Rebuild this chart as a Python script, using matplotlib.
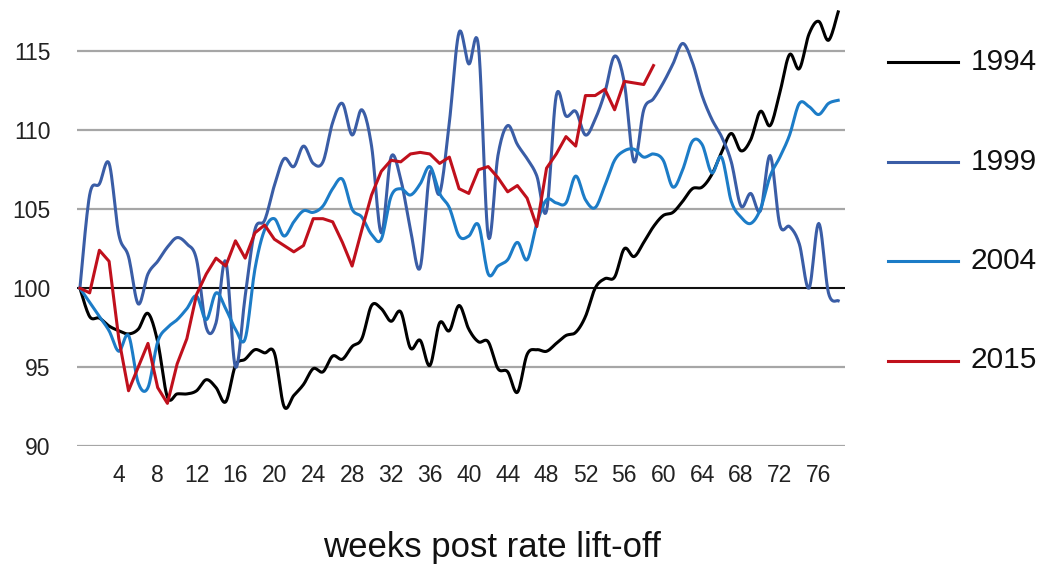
"""Index levels in the weeks after a rate lift-off, four hiking cycles."""
import matplotlib
matplotlib.use("Agg")
import matplotlib.pyplot as plt
from matplotlib.lines import Line2D
import numpy as np

plt.rcParams["font.family"] = ["Liberation Sans", "DejaVu Sans"]

# ── Data (weekly, week 0 = lift-off, indexed to 100) ─────────────────────────
weeks = list(range(79))

y1994 = [100, 98.2, 98.1, 97.6, 97.3, 97.1, 97.4, 98.4, 96.6, 93.1,
         93.3, 93.3, 93.5, 94.2, 93.7, 92.8, 95.1, 95.5, 96.1, 95.9,
         95.9, 92.5, 93.2, 93.9, 94.9, 94.7, 95.7, 95.5, 96.3, 96.8,
         98.9, 98.7, 97.9, 98.5, 96.2, 96.7, 95.1, 97.8, 97.3, 98.9,
         97.4, 96.6, 96.6, 94.9, 94.7, 93.4, 95.8, 96.1, 96.0, 96.5,
         97.0, 97.2, 98.2, 100.0, 100.6, 100.7, 102.5, 102.0, 102.9, 103.9,
         104.6, 104.8, 105.5, 106.3, 106.4, 107.2, 108.6, 109.8, 108.7, 109.4,
         111.2, 110.3, 112.4, 114.8, 113.9, 116.1, 116.9, 115.7, 117.5]

y1999 = [100, 105.9, 106.6, 107.9, 103.4, 102.0, 99.0, 100.9, 101.7, 102.6,
         103.2, 102.8, 101.8, 97.5, 97.8, 101.7, 95.0, 99.5, 103.7, 104.3,
         106.5, 108.2, 107.7, 109.0, 107.9, 108.0, 110.5, 111.7, 109.7, 111.3,
         109.0, 103.5, 108.3, 106.9, 103.7, 101.3, 107.3, 106.0, 110.5, 116.2,
         114.2, 115.3, 103.3, 108.4, 110.3, 109.1, 108.2, 107.1, 104.9, 112.2,
         110.9, 111.2, 109.7, 110.7, 112.4, 114.7, 113.0, 108.0, 111.3, 112.0,
         113.0, 114.2, 115.5, 114.3, 112.2, 110.7, 109.6, 108.0, 105.2, 106.0,
         104.9, 108.4, 104.0, 103.9, 102.8, 100.0, 104.1, 99.7, 99.2]

y2004 = [100, 99.1, 98.2, 97.3, 96.0, 97.0, 94.0, 93.7, 96.6, 97.5,
         98.0, 98.7, 99.5, 98.0, 99.7, 98.7, 97.4, 96.8, 101.2, 103.7,
         104.4, 103.3, 104.2, 104.9, 104.8, 105.2, 106.3, 106.9, 105.0, 104.5,
         103.4, 103.1, 105.8, 106.3, 105.9, 106.6, 107.7, 106.0, 105.1, 103.3,
         103.3, 104.0, 100.9, 101.4, 101.8, 102.9, 101.8, 104.1, 105.6, 105.4,
         105.4, 107.1, 105.6, 105.1, 106.5, 108.1, 108.7, 108.8, 108.3, 108.5,
         108.1, 106.4, 107.5, 109.3, 109.1, 107.3, 108.3, 105.5, 104.5, 104.1,
         105.0, 107.1, 108.3, 109.7, 111.7, 111.5, 111.0, 111.7, 111.9]

y2015 = [100, 99.7, 102.4, 101.7, 96.8, 93.5, 95.0, 96.5, 93.7, 92.7,
         95.2, 96.8, 99.6, 100.9, 101.9, 101.4, 103.0, 101.9, 103.5, 104.0,
         103.1, 102.7, 102.3, 102.7, 104.4, 104.4, 104.2, 102.9, 101.4, 103.7,
         105.9, 107.4, 108.1, 108.0, 108.5, 108.6, 108.5, 107.9, 108.3, 106.3,
         106.0, 107.5, 107.7, 107.0, 106.1, 106.5, 105.7, 103.9, 107.6, 108.5,
         109.6, 109.0, 112.2, 112.2, 112.6, 111.3, 113.1, 113.0, 112.9, 114.1]

SERIES = [
    ("1994", y1994, "#000000", True),
    ("1999", y1999, "#3a5da6", True),
    ("2004", y2004, "#1c7cc7", True),
    ("2015", y2015, "#c0101c", False),
]

x_ticks = list(range(4, 77, 4))
y_ticks = [90, 95, 100, 105, 110, 115]


def smooth(x, y, n=12):
    """Catmull-Rom curve through the points, like a spreadsheet 'smoothed line'."""
    p = np.column_stack([x, y]).astype(float)
    p = np.vstack([p[0], p, p[-1]])
    t = np.linspace(0, 1, n, endpoint=False)[:, None]
    segs = []
    for i in range(1, len(p) - 2):
        p0, p1, p2, p3 = p[i - 1], p[i], p[i + 1], p[i + 2]
        segs.append(0.5 * (2 * p1 + (p2 - p0) * t
                           + (2 * p0 - 5 * p1 + 4 * p2 - p3) * t ** 2
                           + (3 * p1 - p0 - 3 * p2 + p3) * t ** 3))
    segs.append(p[-2:-1])
    s = np.vstack(segs)
    return s[:, 0], s[:, 1]


# ── Figure ───────────────────────────────────────────────────────────────────
W, H = 1047, 568
fig = plt.figure(figsize=(W / 100, H / 100), dpi=100)
ax = fig.add_axes([77 / W, 1 - 446 / H, (845 - 77) / W, (446 - 4) / H])

for label, vals, color, is_smooth in SERIES:
    xs = weeks[:len(vals)]
    if is_smooth:
        sx, sy = smooth(xs, vals)
    else:
        sx, sy = xs, vals
    ax.plot(sx, sy, color=color, lw=2.2, zorder=3, clip_on=False,
            solid_joinstyle="round")

ax.set_xlim(-0.3, 78.7)
ax.set_ylim(90, 118)
ax.set_xticks(x_ticks)
ax.set_yticks(y_ticks)
ax.tick_params(axis="both", length=0, labelsize=16.5, labelcolor="#222222")
ax.tick_params(axis="y", pad=19)
ax.tick_params(axis="x", pad=13)
for s in ax.spines.values():
    s.set_visible(False)
ax.yaxis.grid(True, color="#a6a6a6", lw=1.6, zorder=0)
ax.axhline(100, color="#000000", lw=1.3, zorder=1)
ax.set_axisbelow(True)
ax.set_xlabel("weeks post rate lift-off", fontsize=25, color="#111111")
# the title sits a little right of the plot centre in the original
ax.xaxis.set_label_coords((492 - 77) / 768, -(548 - 446) / 442)
ax.xaxis.label.set_va("center")

# legend drawn by hand, outside the plot on the right
for i, (label, _, color, _) in enumerate(SERIES):
    yy = 1 - (62 + i * 99.5) / H
    fig.add_artist(Line2D([888 / W, 958 / W], [yy, yy], color=color, lw=2.2))
    fig.text(971 / W, yy, label, fontsize=21.5, va="center", ha="left",
             color="#111111")

fig.savefig("out.png", dpi=100)
